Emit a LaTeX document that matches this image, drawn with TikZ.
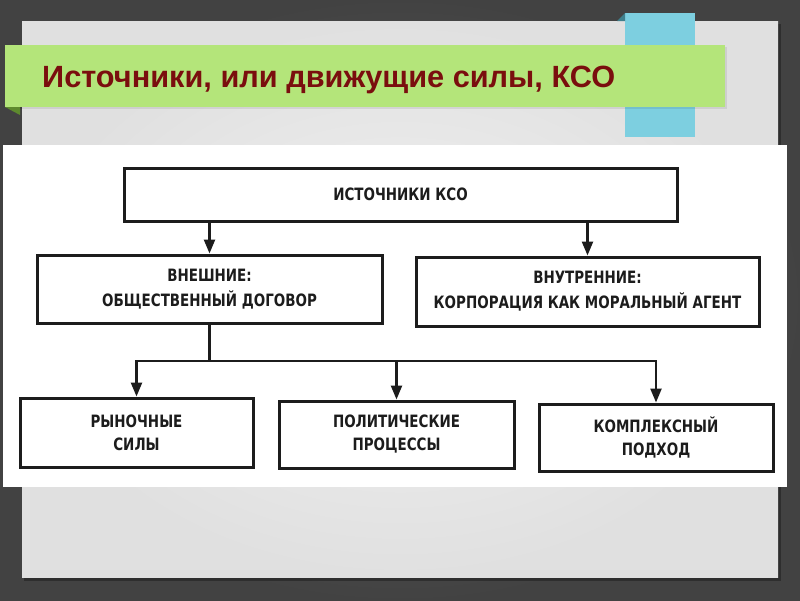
\documentclass[tikz,border=0pt]{standalone}
\usepackage{fontspec}
\setmainfont{Liberation Sans}
\newfontfamily\diag{DejaVu Sans Condensed}[FakeStretch=0.88]
\usetikzlibrary{arrows.meta}
\definecolor{bgdark}{HTML}{4E4E4E}
\definecolor{panelout}{HTML}{E0E0E0}
\definecolor{panelin}{HTML}{F2F2F2}
\definecolor{ribgreen}{HTML}{B4E57A}
\definecolor{foldgreen}{HTML}{5E8A2E}
\definecolor{ribblue}{HTML}{7DCFE0}
\definecolor{foldblue}{HTML}{3F7F8C}
\definecolor{titlered}{HTML}{7A0E0E}
\definecolor{ink}{HTML}{1C1C1C}
\tikzset{
  box/.style={draw=ink, line width=3pt, fill=white, inner sep=0pt, align=center,
    text=ink, font=\diag\bfseries\fontsize{17}{23}\selectfont},
  conn/.style={draw=ink, line width=2.4pt},
  arr/.style={conn, -{Triangle[length=14pt,width=11pt]}}
}
\begin{document}
\begin{tikzpicture}[x=1pt,y=-1pt]
\useasboundingbox (0,0) rectangle (800,600);
% background
\shade[inner color=bgdark!90!white, outer color=bgdark!85!black] (0,0) rectangle (800,600);
% panel with shadow
\fill[black, opacity=0.3] (24,24) rectangle (781,581);
\shade[inner color=panelin, outer color=panelout] (22,21) rectangle (778,577);
% blue ribbon
\fill[ribblue] (625,13) rectangle (695,137);
\fill[foldblue] (617,21) -- (625,13) -- (625,21) -- cycle;
% green band
\fill[black, opacity=0.08] (7,47) rectangle (727,109);
\fill[ribgreen] (5,45) rectangle (725,107);
\fill[foldgreen] (5,107) -- (20,107) -- (20,115) -- cycle;
\node[anchor=base west, inner sep=0pt, text=titlered,
  font=\bfseries\fontsize{30.7}{36}\selectfont] (title) at (42,87)
  {Источники, или движущие силы, КСО};
% white scanned area
\fill[white] (3,145) rectangle (787,487);
% boxes
\node[box, minimum width=553pt, minimum height=53pt] (src) at (400.5,194.5) {ИСТОЧНИКИ КСО};
\node[box, minimum width=345pt, minimum height=68pt, font=\diag\bfseries\fontsize{17}{25}\selectfont] (ext) at (209.5,289) {ВНЕШНИЕ:\\ОБЩЕСТВЕННЫЙ ДОГОВОР};
\node[box, minimum width=343pt, minimum height=69pt, font=\diag\bfseries\fontsize{17}{25}\selectfont] (int) at (587.5,291.5) {ВНУТРЕННИЕ:\\КОРПОРАЦИЯ КАК МОРАЛЬНЫЙ АГЕНТ};
\node[box, minimum width=233pt, minimum height=69pt] (mkt) at (136.5,432.5) {РЫНОЧНЫЕ\\СИЛЫ};
\node[box, minimum width=235pt, minimum height=67pt] (pol) at (396.5,434.5) {ПОЛИТИЧЕСКИЕ\\ПРОЦЕССЫ};
\node[box, minimum width=234pt, minimum height=67pt] (cmp) at (656,437.5) {КОМПЛЕКСНЫЙ\\ПОДХОД};
% connectors
\draw[arr] (src.south -| ext.north) -- (ext.north);
\draw[arr] (src.south -| int.north) -- (int.north);
\coordinate (j) at (209.5,361);
\draw[conn] (ext.south) -- (j);
\draw[arr] (j) -| (mkt.north);
\draw[arr] (j) -| (cmp.north);
\draw[arr] (j -| pol.north) -- (pol.north);
\end{tikzpicture}
\end{document}
